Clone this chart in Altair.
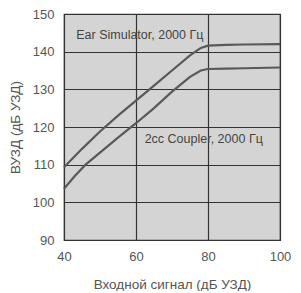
import altair as alt
import pandas as pd

# Ear Simulator curve
ear_x = [40, 45, 50, 55, 60, 65, 70, 75, 78, 80, 85, 90, 100]
ear_y = [109.3, 114.2, 118.8, 123.0, 127.0, 131.0, 135.0, 139.0, 141.0, 141.6, 141.8, 141.9, 142.0]
# 2cc Coupler curve
cpl_x = [40, 43, 46, 50, 55, 60, 65, 70, 75, 78, 80, 85, 90, 100]
cpl_y = [103.6, 107.0, 110.0, 113.2, 117.2, 121.0, 125.0, 129.4, 133.3, 135.0, 135.4, 135.5, 135.6, 135.8]

labels = ["Ear Simulator, 2000 Гц", "2cc Coupler, 2000 Гц"]
label_x = [43.4, 62.4]
label_y = [144.4, 116.8]

x_ticks = [40, 60, 80, 100]
y_ticks = [90, 100, 110, 120, 130, 140, 150]

df = pd.concat([
    pd.DataFrame({"x": ear_x, "y": ear_y, "s": "ear"}),
    pd.DataFrame({"x": cpl_x, "y": cpl_y, "s": "cpl"}),
])
lab = pd.DataFrame({"x": label_x, "y": label_y, "t": labels})

xs = alt.Scale(domain=[40, 100], nice=False, zero=False)
ys = alt.Scale(domain=[90, 150], nice=False, zero=False)

x_axis = alt.Axis(values=x_ticks, tickCount=4, title="Входной сигнал (дБ УЗД)",
                  titlePadding=14, labelPadding=10)
y_axis = alt.Axis(values=y_ticks, tickCount=7, title="ВУЗД (дБ УЗД)",
                  titlePadding=10, labelPadding=10)

lines = alt.Chart(df).mark_line(color="#595959", strokeWidth=2.2).encode(
    x=alt.X("x:Q", scale=xs, axis=x_axis),
    y=alt.Y("y:Q", scale=ys, axis=y_axis),
    detail="s:N",
)

texts = alt.Chart(lab).mark_text(align="left", baseline="middle", fontSize=12.5,
                                 font="Liberation Sans", color="#444444").encode(
    x=alt.X("x:Q", scale=xs, axis=x_axis),
    y=alt.Y("y:Q", scale=ys, axis=y_axis),
    text="t:N",
)

chart = alt.layer(lines, texts).properties(
    width=216, height=226,
    autosize=alt.AutoSizeParams(type="none"),
    padding={"left": 56, "top": 6, "right": 13, "bottom": 51},
).configure_view(
    fill="#d4d4d4", stroke="#333333", strokeWidth=1.2
).configure_axis(
    grid=True, gridColor="#333333", gridWidth=1.2, gridOpacity=1,
    domain=False, ticks=False, labelOverlap=False, labelFlush=False,
    labelFont="Liberation Sans", labelFontSize=13, labelColor="#555555",
    titleFont="Liberation Sans", titleFontSize=13.5, titleColor="#555555",
    titleFontWeight="normal",
)

chart.save("out.html", embed_options={"renderer": "svg", "actions": False})
